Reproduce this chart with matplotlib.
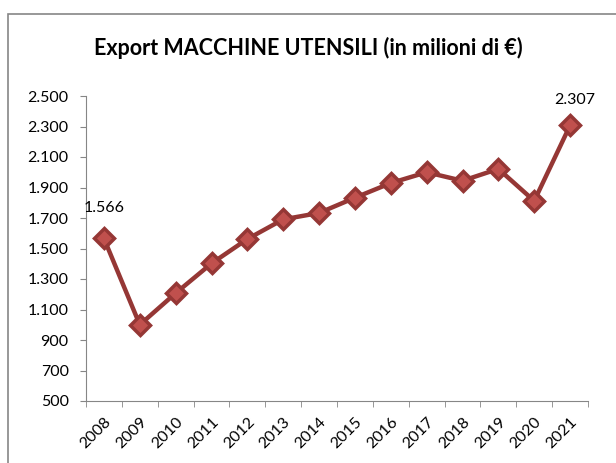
import matplotlib.pyplot as plt
from matplotlib.patches import Rectangle

# export values, millions of euro
years = ["2008", "2009", "2010", "2011", "2012", "2013", "2014",
         "2015", "2016", "2017", "2018", "2019", "2020", "2021"]
export = [1566, 1000, 1207, 1402, 1562, 1691, 1733,
          1833, 1929, 2000, 1944, 2022, 1812, 2307]
y_ticks = [500, 700, 900, 1100, 1300, 1500, 1700, 1900, 2100, 2300, 2500]

plt.rcParams['font.family'] = ['Lato', 'DejaVu Sans']

fig = plt.figure(figsize=(6.16, 4.63), dpi=100)
ax = fig.add_axes([86/616, 1-401/463, (588-86)/616, (401-96)/463])

# chart area border (runs off right and bottom edge)
fig.patches.append(Rectangle((8/616, -0.05), 1.0, 1-14/463+0.05,
                             transform=fig.transFigure, fill=False,
                             edgecolor='#868686', linewidth=1.2))

x = list(range(len(years)))
ax.plot(x, export, color='#953735', linewidth=3.2, marker='D',
        markersize=10, markerfacecolor='#C0504D', markeredgecolor='#953735',
        markeredgewidth=2.5, zorder=3)

ax.set_xlim(-0.5, len(years) - 0.5)
ax.set_ylim(500, 2500)
ax.set_yticks(y_ticks)
ax.set_yticklabels([f"{v:,}".replace(",", ".") for v in y_ticks], fontsize=11.5)
ax.set_xticks(x)
ax.set_xticklabels(years, rotation=45, ha='right', rotation_mode='anchor', fontsize=11.5)
ax.tick_params(axis='x', length=0, pad=10)
ax.set_xticks([i + 0.5 for i in range(-1, len(years))], minor=True)
ax.tick_params(axis='x', which='minor', length=4, color='#868686')
ax.tick_params(axis='y', length=4.5, pad=8, color='#868686')

for side in ['top', 'right']:
    ax.spines[side].set_visible(False)
for side in ['left', 'bottom']:
    ax.spines[side].set_color('#868686')

# data labels for first and last year
ax.annotate(f"{export[0]:,}".replace(",", "."), (0, export[0]),
            xytext=(0, 22), textcoords='offset points', ha='center',
            va='center', fontsize=11.5)
ax.annotate(f"{export[-1]:,}".replace(",", "."), (len(years) - 1, export[-1]),
            xytext=(3, 18), textcoords='offset points', ha='center',
            va='center', fontsize=11.5)

fig.text(0.5, 1 - 48/463, "Export MACCHINE UTENSILI (in milioni di €)",
         ha='center', va='center', fontsize=15.5, fontweight='bold')

fig.savefig("out.png", dpi=100)
